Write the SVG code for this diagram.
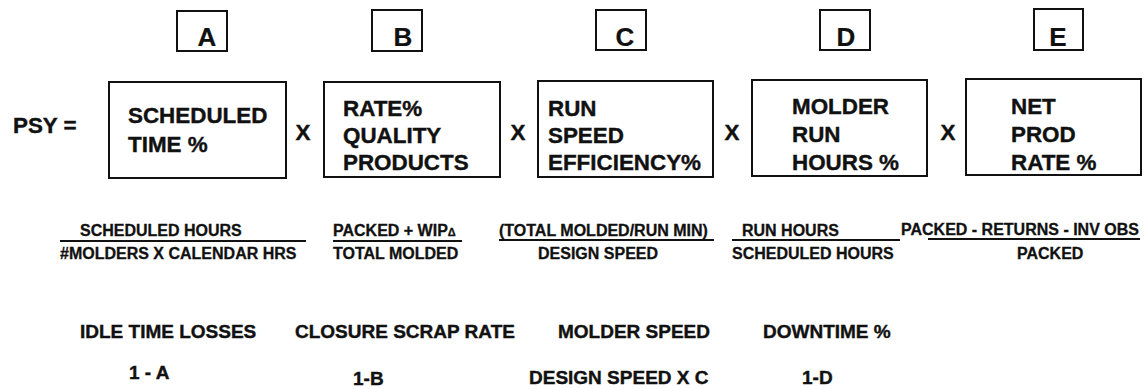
<svg xmlns="http://www.w3.org/2000/svg" width="1146" height="389" viewBox="0 0 1146 389">
<style>
text{font-family:"Liberation Sans",Arial,sans-serif;font-weight:bold;fill:#111;stroke:#111;stroke-width:0.4}
.box{fill:#fff;stroke:#111;stroke-width:2}
.lbl{font-size:26px;text-anchor:middle;stroke-width:0.2}
.t{font-size:22.4px}
.f{font-size:16px;stroke-width:0.3}
.b{font-size:19px}
.bar{stroke:#111;stroke-width:2.2}
</style>
<rect width="1146" height="389" fill="#fff"/>
<g id="psy"><text class="t" x="13" y="133">PSY =</text></g>
<g id="tagA"><rect class="box" x="177" y="11" width="50" height="40"/><text class="lbl" x="207" y="46">A</text></g>
<g id="tagB"><rect class="box" x="372" y="10" width="50" height="41"/><text class="lbl" x="403" y="46">B</text></g>
<g id="tagC"><rect class="box" x="596" y="10" width="50" height="40"/><text class="lbl" x="625" y="46">C</text></g>
<g id="tagD"><rect class="box" x="820" y="10" width="50" height="40"/><text class="lbl" x="846" y="46">D</text></g>
<g id="tagE"><rect class="box" x="1034" y="9" width="49" height="41"/><text class="lbl" x="1058" y="46">E</text></g>
<g id="boxA"><rect class="box" x="109" y="82" width="177" height="96"/><text class="t" x="128" y="123">SCHEDULED</text><text class="t" x="128" y="152">TIME %</text></g>
<g id="boxB"><rect class="box" x="324" y="82" width="176" height="95"/><text class="t" x="343" y="116">RATE%</text><text class="t" x="343" y="143">QUALITY</text><text class="t" x="343" y="170">PRODUCTS</text></g>
<g id="boxC"><rect class="box" x="538" y="81" width="175" height="96"/><text class="t" x="548" y="116">RUN</text><text class="t" x="548" y="143">SPEED</text><text class="t" x="548" y="170">EFFICIENCY%</text></g>
<g id="boxD"><rect class="box" x="752" y="80" width="175" height="96"/><text class="t" x="792" y="114">MOLDER</text><text class="t" x="792" y="142">RUN</text><text class="t" x="792" y="170">HOURS %</text></g>
<g id="boxE"><rect class="box" x="966" y="79" width="175" height="96"/><text class="t" x="1011" y="114">NET</text><text class="t" x="1011" y="142">PROD</text><text class="t" x="1011" y="170">RATE %</text></g>
<g id="times" text-anchor="middle"><text class="t" x="303" y="140">X</text><text class="t" x="518" y="140">X</text><text class="t" x="732" y="140">X</text><text class="t" x="948" y="140">X</text></g>
<g id="connectors">
<line class="bar" x1="60" y1="241" x2="306" y2="241"/>
<line class="bar" x1="333" y1="241" x2="462" y2="241"/>
<line class="bar" x1="499" y1="240" x2="714" y2="240"/>
<line class="bar" x1="732" y1="240" x2="900" y2="240"/>
<line class="bar" x1="928" y1="239" x2="1140" y2="239"/>
</g>
<g id="fracA"><text class="f" x="80" y="236">SCHEDULED HOURS</text><text class="f" x="60" y="259">#MOLDERS X CALENDAR HRS</text></g>
<g id="fracB"><text class="f" x="333" y="236">PACKED + WIP<tspan font-size="11">Δ</tspan></text><text class="f" x="333" y="259">TOTAL MOLDED</text></g>
<g id="fracC"><text class="f" x="499" y="236">(TOTAL MOLDED/RUN MIN)</text><text class="f" x="538" y="259">DESIGN SPEED</text></g>
<g id="fracD"><text class="f" x="742" y="236">RUN HOURS</text><text class="f" x="732" y="259">SCHEDULED HOURS</text></g>
<g id="fracE"><text class="f" x="901" y="235">PACKED - RETURNS - INV OBS</text><text class="f" x="1017" y="259">PACKED</text></g>
<g id="lossA"><text class="b" x="80" y="338">IDLE TIME LOSSES</text><text class="b" x="129" y="379">1 - A</text></g>
<g id="lossB"><text class="b" x="295" y="338">CLOSURE SCRAP RATE</text><text class="b" x="353" y="385">1-B</text></g>
<g id="lossC"><text class="b" x="558" y="338">MOLDER SPEED</text><text class="b" x="529" y="384">DESIGN SPEED X C</text></g>
<g id="lossD"><text class="b" x="763" y="338">DOWNTIME %</text><text class="b" x="802" y="384">1-D</text></g>
</svg>
